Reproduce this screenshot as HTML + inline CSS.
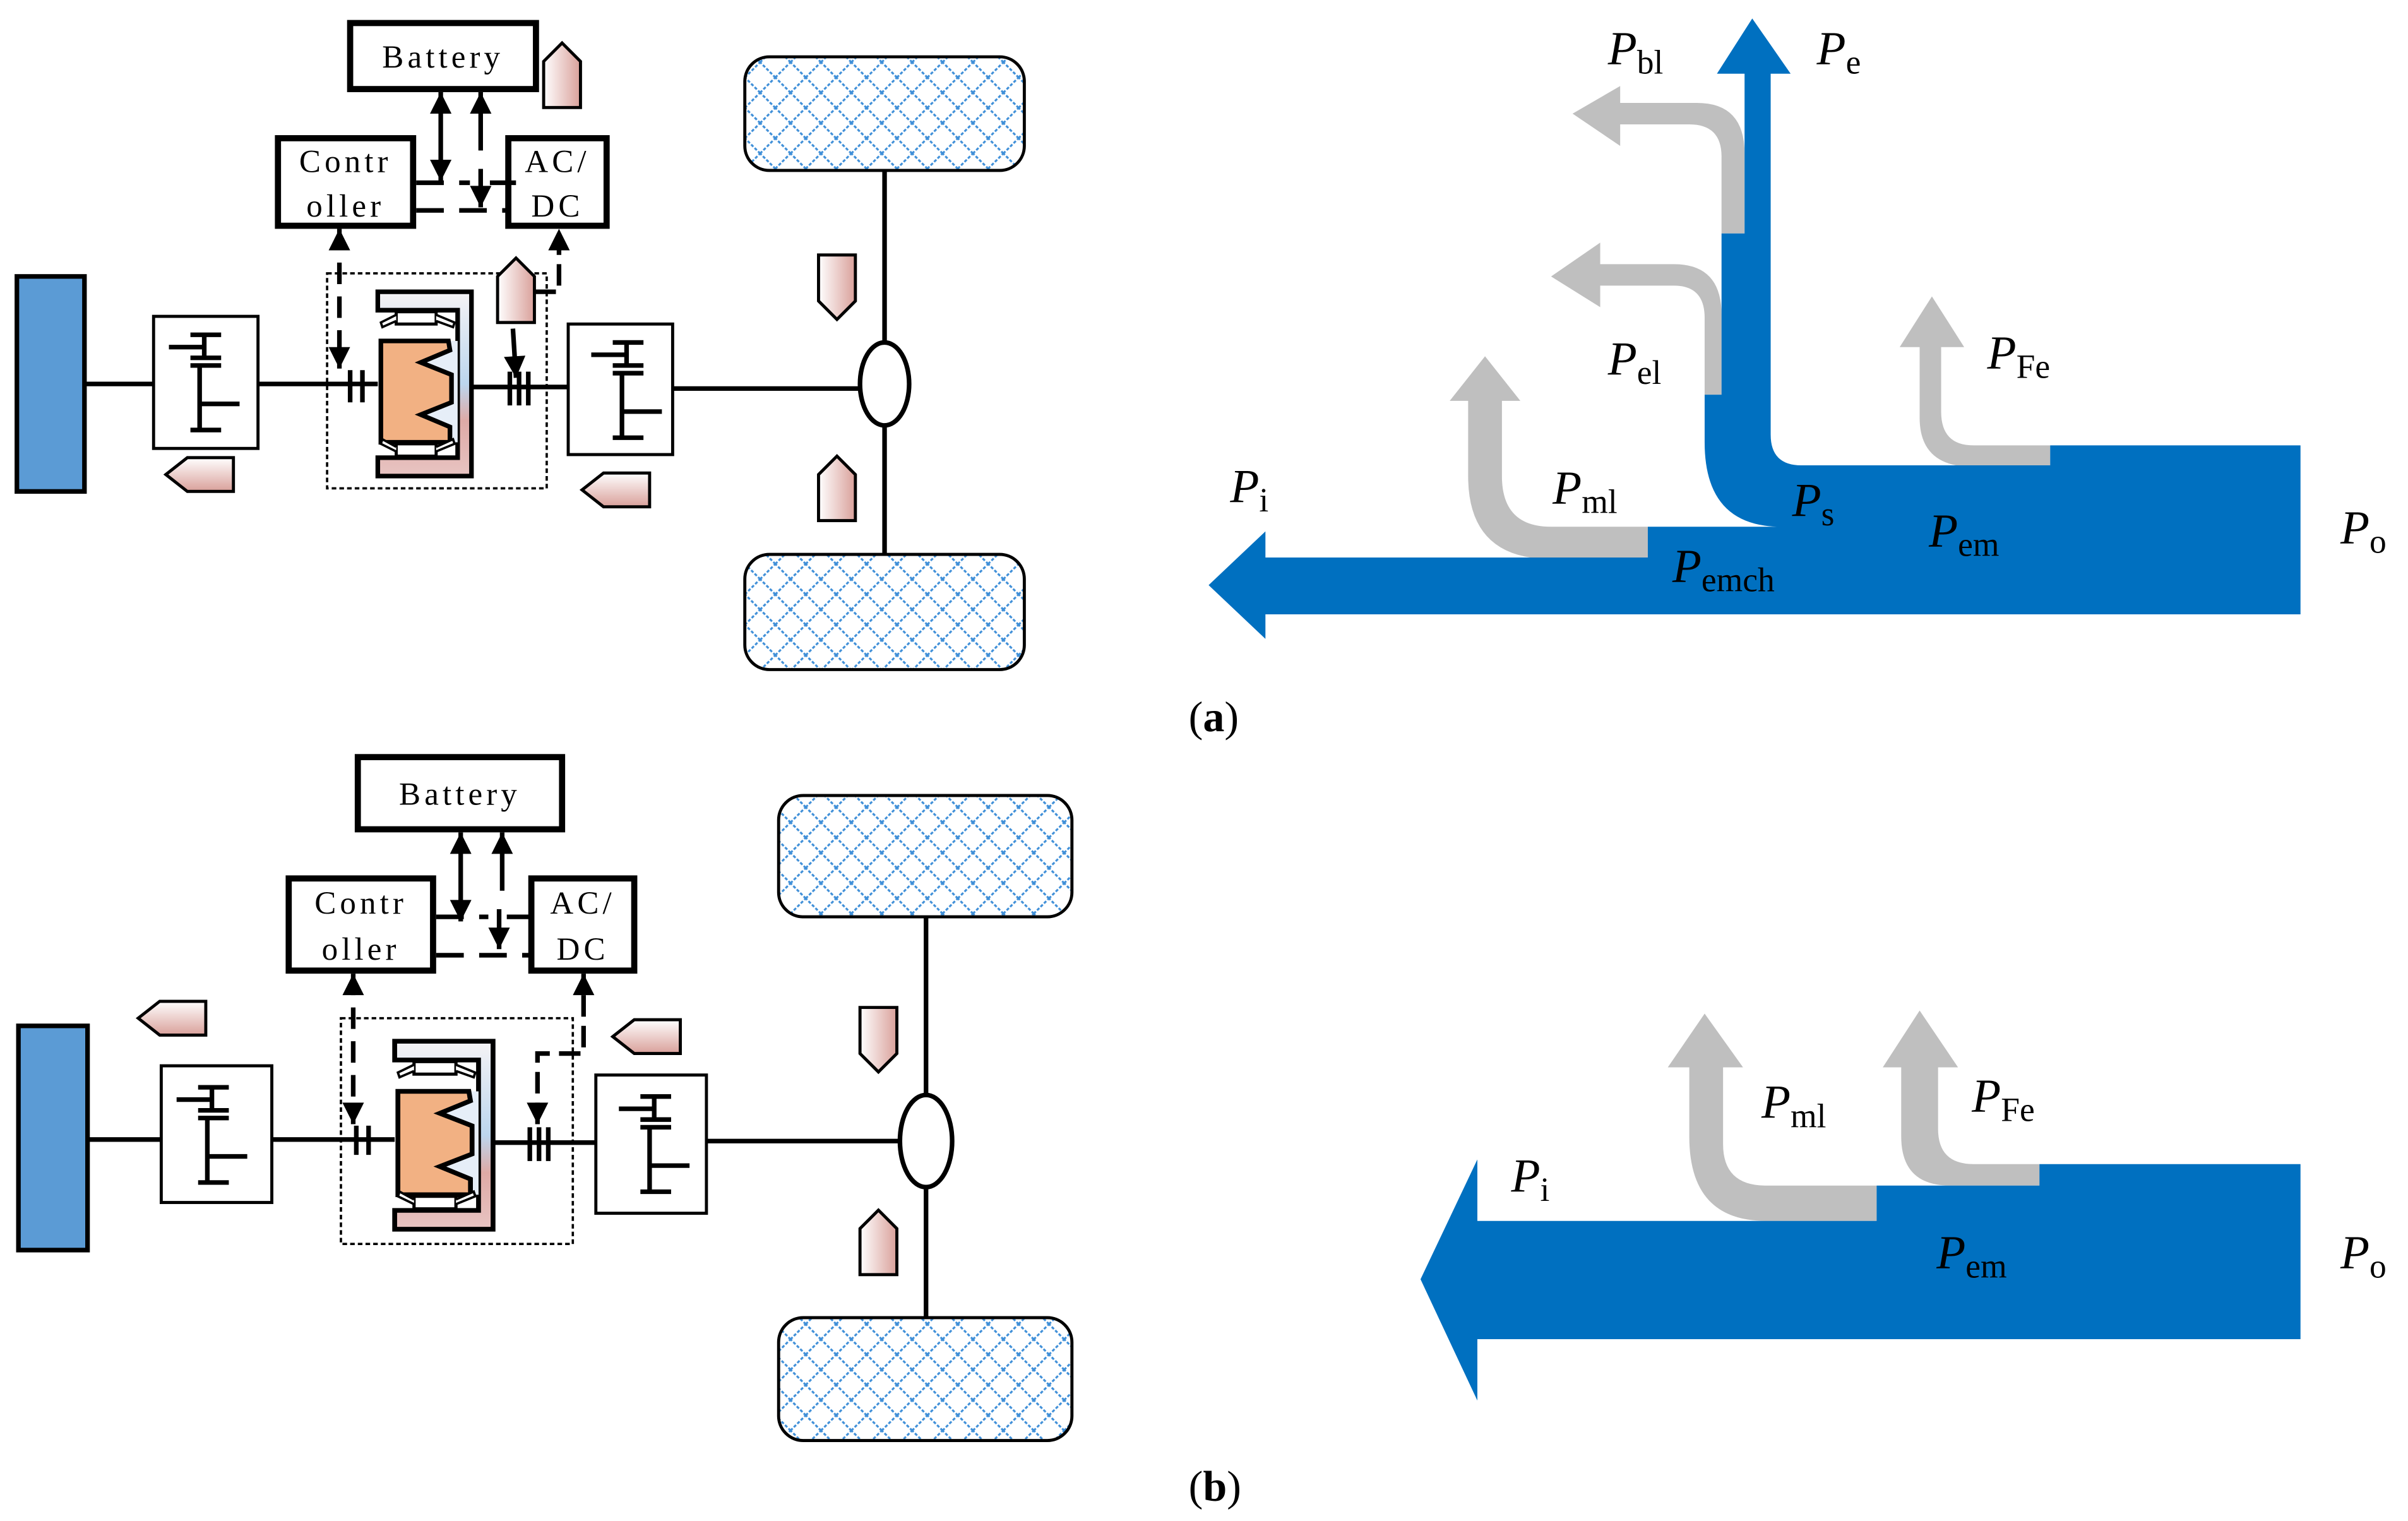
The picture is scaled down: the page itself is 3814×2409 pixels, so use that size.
<!DOCTYPE html>
<html><head><meta charset="utf-8"><style>html,body{margin:0;padding:0;background:#fff}svg{display:block}
.lb{font-family:"Liberation Serif",serif;font-style:italic;font-size:31px}
.sb{font-style:normal;font-size:22px}
.mono{font-family:"Liberation Serif","DejaVu Serif",serif;font-size:21px;letter-spacing:2.5px}
</style></head><body>
<svg width="3814" height="2409" viewBox="0 0 1568 990.4" preserveAspectRatio="none" xmlns="http://www.w3.org/2000/svg">
<defs>
<pattern id="hatch" width="14" height="14" patternUnits="userSpaceOnUse" patternTransform="rotate(45)">
<line x1="0" y1="0" x2="0" y2="14" stroke="#3f8fd8" stroke-width="2.6" stroke-dasharray="2 1.2"/>
<line x1="0" y1="0" x2="14" y2="0" stroke="#3f8fd8" stroke-width="2.6" stroke-dasharray="2 1.2"/>
</pattern>
<linearGradient id="pk" x1="0" x2="1" y1="0" y2="0"><stop offset="0" stop-color="#fff"/><stop offset="1" stop-color="#d9a09a"/></linearGradient>
<linearGradient id="pkv" x1="0" x2="0" y1="0" y2="1"><stop offset="0" stop-color="#fff"/><stop offset="1" stop-color="#d9a09a"/></linearGradient>
<linearGradient id="mg" x1="0" x2="0" y1="0" y2="1"><stop offset="0" stop-color="#f5f3f5"/><stop offset="0.5" stop-color="#bcd6ee"/><stop offset="0.7" stop-color="#deaaa6"/><stop offset="1" stop-color="#e8c4c2"/></linearGradient>
<marker id="ah2" viewBox="0 0 10 10" refX="10" refY="5" markerWidth="16" markerHeight="14" orient="auto-start-reverse" markerUnits="userSpaceOnUse"><path d="M0,0L10,5L0,10z"/></marker>
<g id="gear" stroke="#000" stroke-width="3" fill="none">
<path d="M24,11H44M24,26H44M33,11V26M10,19H33M24,31H44M30,31V73M24,73H44M30,56H56"/>
</g>
<g id="motor">
<path d="M0,0H61V120H0V108H52V12H0Z" fill="url(#mg)" stroke="#000" stroke-width="3"/>
<rect x="2" y="32" width="50" height="66" fill="#e6eef8"/>
<path d="M2,32 H46 L47,38 L28,46 L48,54 L48,72 L28,80 L47,88 L47,98 H2Z" fill="#f2b183" stroke="#000" stroke-width="3"/>
<rect x="12" y="13" width="26" height="8" fill="#fff" stroke="#000" stroke-width="2"/>
<rect x="12" y="99" width="26" height="8" fill="#fff" stroke="#000" stroke-width="2"/>
<path d="M12,15 L2,20 L3,23 L12,19 M38,15 L50,20 L49,23 L38,19 M12,104 L2,99 L3,96 L12,101 M38,104 L50,99 L49,96 L38,101" fill="#fff" stroke="#000" stroke-width="1.5"/>
</g>
<path id="pu" d="M0,12L12,0L24,12V42H0Z" fill="url(#pk)" stroke="#000" stroke-width="2"/>
<path id="pd" d="M0,0H24V30L12,42L0,30Z" fill="url(#pk)" stroke="#000" stroke-width="2"/>
<path id="pl" d="M0,11L14,0H44V22H14Z" fill="url(#pkv)" stroke="#000" stroke-width="2"/>
</defs>

<g>
<rect x="11" y="180" width="44" height="140" fill="#5b9bd5" stroke="#000" stroke-width="3"/>
<line x1="55" y1="250" x2="100" y2="250" stroke="#000" stroke-width="3"/>
<rect x="100" y="206" width="68" height="86" fill="#fff" stroke="#000" stroke-width="2"/>
<use href="#gear" x="100" y="207"/>
<line x1="168" y1="250" x2="246" y2="250" stroke="#000" stroke-width="3"/>
<rect x="213" y="178" width="143" height="140" fill="none" stroke="#000" stroke-width="1.5" stroke-dasharray="3 2"/>
<path d="M228,241V262M236,241V262" stroke="#000" stroke-width="3"/>
<use href="#motor" x="246" y="190"/>
<line x1="307" y1="252" x2="370" y2="252" stroke="#000" stroke-width="3"/>
<path d="M332,242V264M338,242V264M344,242V264" stroke="#000" stroke-width="3"/>
<rect x="370" y="211" width="68" height="85" fill="#fff" stroke="#000" stroke-width="2"/>
<use href="#gear" x="375" y="212"/>
<line x1="438" y1="253" x2="562" y2="253" stroke="#000" stroke-width="3"/>
<line x1="576" y1="110" x2="576" y2="362" stroke="#000" stroke-width="3"/>
<ellipse cx="576" cy="250" rx="16" ry="27" fill="#fff" stroke="#000" stroke-width="3"/>
<rect x="485" y="37" width="182" height="74" rx="16" fill="url(#hatch)" stroke="#000" stroke-width="2"/>
<rect x="485" y="361" width="182" height="75" rx="16" fill="url(#hatch)" stroke="#000" stroke-width="2"/>
<rect x="228" y="15" width="121" height="43" fill="#fff" stroke="#000" stroke-width="4"/>
<text x="288.5" y="44" class="mono" text-anchor="middle">Battery</text>
<rect x="181" y="90" width="88" height="57" fill="#fff" stroke="#000" stroke-width="4"/>
<text x="225" y="112" class="mono" text-anchor="middle">Contr</text>
<text x="225" y="141" class="mono" text-anchor="middle">oller</text>
<rect x="331" y="90" width="64" height="57" fill="#fff" stroke="#000" stroke-width="4"/>
<text x="363" y="112" class="mono" text-anchor="middle">AC/</text>
<text x="363" y="141" class="mono" text-anchor="middle">DC</text>
<line x1="287" y1="60" x2="287" y2="118" stroke="#000" stroke-width="3" marker-start="url(#ah2)" marker-end="url(#ah2)"/>
<line x1="313" y1="60" x2="313" y2="98" stroke="#000" stroke-width="3" marker-start="url(#ah2)"/>
<line x1="313" y1="110" x2="313" y2="135" stroke="#000" stroke-width="3" marker-end="url(#ah2)"/>
<path d="M271,119H306M319,119H336M271,137H331" stroke="#000" stroke-width="3" stroke-dasharray="18 10"/>
<line x1="221" y1="149" x2="221" y2="240" stroke="#000" stroke-width="3" stroke-dasharray="14 8" marker-start="url(#ah2)" marker-end="url(#ah2)"/>
<path d="M348,190H364V149" fill="none" stroke="#000" stroke-width="3" stroke-dasharray="14 6" marker-end="url(#ah2)"/>
<line x1="334" y1="214" x2="336" y2="246" stroke="#000" stroke-width="3" marker-end="url(#ah2)"/>
<use href="#pu" x="354" y="28"/>
<use href="#pu" x="324" y="168"/>
<use href="#pd" x="533" y="166"/>
<use href="#pu" x="533" y="297"/>
<use href="#pl" x="108" y="298"/>
<use href="#pl" x="379" y="308"/>
</g>

<g>
<path d="M1136,152 V100 Q1136,67 1105,67 H1055 V56 L1024,74 L1055,95 V81 H1100 Q1121,81 1121,102 V152Z" fill="#bfbfbf"/>
<path d="M1121,257 V205 Q1121,172 1090,172 H1042 V158 L1010,180 L1042,200 V186 H1090 Q1110,186 1110,207 V257Z" fill="#bfbfbf"/>
<path d="M1073,343 H1010 Q978,343 978,310 V261 H990 L967,232 L944,261 H956 V310 Q956,364 1010,364 H1073Z" fill="#bfbfbf"/>
<path d="M1335,290 H1285 Q1264,290 1264,268 V226 H1279 L1258,193 L1237,226 H1250 V272 Q1250,304 1285,304 H1335Z" fill="#bfbfbf"/>
<path d="M1141,12 L1166,48 H1153 V283 Q1153,303 1173,303 H1335 V290 H1498 V400 H824 V416 L787,381 L824,346 V363 H1073 V343 H1160 Q1110,343 1110,288 V257 H1121 V152 H1136 V48 H1118 Z" fill="#0070c0"/>
<text class="lb" x="1047" y="42">P<tspan class="sb" dy="6">bl</tspan></text>
<text class="lb" x="1183" y="42">P<tspan class="sb" dy="6">e</tspan></text>
<text class="lb" x="1047" y="244">P<tspan class="sb" dy="6">el</tspan></text>
<text class="lb" x="1294" y="240">P<tspan class="sb" dy="6">Fe</tspan></text>
<text class="lb" x="801" y="327">P<tspan class="sb" dy="6">i</tspan></text>
<text class="lb" x="1011" y="328">P<tspan class="sb" dy="6">ml</tspan></text>
<text class="lb" x="1167" y="336">P<tspan class="sb" dy="6">s</tspan></text>
<text class="lb" x="1256" y="356">P<tspan class="sb" dy="6">em</tspan></text>
<text class="lb" x="1089" y="379">P<tspan class="sb" dy="6">emch</tspan></text>
<text class="lb" x="1524" y="354">P<tspan class="sb" dy="6">o</tspan></text>
<text x="774" y="476" font-family="Liberation Serif,serif" font-size="28">(<tspan font-weight="bold">a</tspan>)</text>
</g>

<g>
<rect x="12" y="668" width="45" height="146" fill="#5b9bd5" stroke="#000" stroke-width="3"/>
<line x1="57" y1="742" x2="105" y2="742" stroke="#000" stroke-width="3"/>
<rect x="105" y="694" width="72" height="89" fill="#fff" stroke="#000" stroke-width="2"/>
<use href="#gear" x="105" y="697"/>
<line x1="177" y1="742" x2="257" y2="742" stroke="#000" stroke-width="3"/>
<rect x="222" y="663" width="151" height="147" fill="none" stroke="#000" stroke-width="1.5" stroke-dasharray="3 2"/>
<path d="M232,733V752M240,733V752" stroke="#000" stroke-width="3"/>
<use href="#motor" x="257" y="678" transform="translate(257 678) scale(1.05 1.02) translate(-257 -678)"/>
<line x1="322" y1="744" x2="388" y2="744" stroke="#000" stroke-width="3"/>
<path d="M345,734V756M351,734V756M357,734V756" stroke="#000" stroke-width="3"/>
<rect x="388" y="700" width="72" height="90" fill="#fff" stroke="#000" stroke-width="2"/>
<use href="#gear" x="393" y="703"/>
<line x1="460" y1="743" x2="588" y2="743" stroke="#000" stroke-width="3"/>
<line x1="603" y1="597" x2="603" y2="858" stroke="#000" stroke-width="3"/>
<ellipse cx="603" cy="743" rx="17" ry="30" fill="#fff" stroke="#000" stroke-width="3"/>
<rect x="507" y="518" width="191" height="79" rx="16" fill="url(#hatch)" stroke="#000" stroke-width="2"/>
<rect x="507" y="858" width="191" height="80" rx="16" fill="url(#hatch)" stroke="#000" stroke-width="2"/>
<rect x="233" y="493" width="133" height="47" fill="#fff" stroke="#000" stroke-width="4"/>
<text x="299.5" y="524" class="mono" text-anchor="middle">Battery</text>
<rect x="188" y="572" width="94" height="60" fill="#fff" stroke="#000" stroke-width="4"/>
<text x="235" y="595" class="mono" text-anchor="middle">Contr</text>
<text x="235" y="625" class="mono" text-anchor="middle">oller</text>
<rect x="346" y="572" width="67" height="60" fill="#fff" stroke="#000" stroke-width="4"/>
<text x="379.5" y="595" class="mono" text-anchor="middle">AC/</text>
<text x="379.5" y="625" class="mono" text-anchor="middle">DC</text>
<line x1="300" y1="542" x2="300" y2="600" stroke="#000" stroke-width="3" marker-start="url(#ah2)" marker-end="url(#ah2)"/>
<line x1="327" y1="542" x2="327" y2="580" stroke="#000" stroke-width="3" marker-start="url(#ah2)"/>
<line x1="325" y1="592" x2="325" y2="618" stroke="#000" stroke-width="3" marker-end="url(#ah2)"/>
<path d="M284,597H318M330,597H346M284,622H346" stroke="#000" stroke-width="3" stroke-dasharray="18 10"/>
<line x1="230" y1="634" x2="230" y2="732" stroke="#000" stroke-width="3" stroke-dasharray="14 8" marker-start="url(#ah2)" marker-end="url(#ah2)"/>
<path d="M350,732V686H380V634" fill="none" stroke="#000" stroke-width="3" stroke-dasharray="14 6" marker-start="url(#ah2)" marker-end="url(#ah2)"/>
<use href="#pl" x="90" y="652"/>
<use href="#pl" x="399" y="664"/>
<use href="#pd" x="560" y="656"/>
<use href="#pu" x="560" y="788"/>
</g>

<g>
<path d="M1222,772 H1150 Q1122,772 1122,745 V695 H1135 L1110,660 L1086,695 H1100 V740 Q1100,795 1150,795 H1222Z" fill="#bfbfbf"/>
<path d="M1328,758 H1285 Q1262,758 1262,735 V695 H1275 L1250,658 L1226,695 H1238 V740 Q1238,772 1270,772 H1328Z" fill="#bfbfbf"/>
<path d="M1498,758 V872 H962 V912 L925,833 L962,755 V795 H1222 V772 H1328 V758Z" fill="#0070c0"/>
<text class="lb" x="1147" y="728">P<tspan class="sb" dy="6">ml</tspan></text>
<text class="lb" x="1284" y="724">P<tspan class="sb" dy="6">Fe</tspan></text>
<text class="lb" x="984" y="776">P<tspan class="sb" dy="6">i</tspan></text>
<text class="lb" x="1261" y="826">P<tspan class="sb" dy="6">em</tspan></text>
<text class="lb" x="1524" y="826">P<tspan class="sb" dy="6">o</tspan></text>
<text x="774" y="977" font-family="Liberation Serif,serif" font-size="28">(<tspan font-weight="bold">b</tspan>)</text>
</g>
</svg>
</body></html>
